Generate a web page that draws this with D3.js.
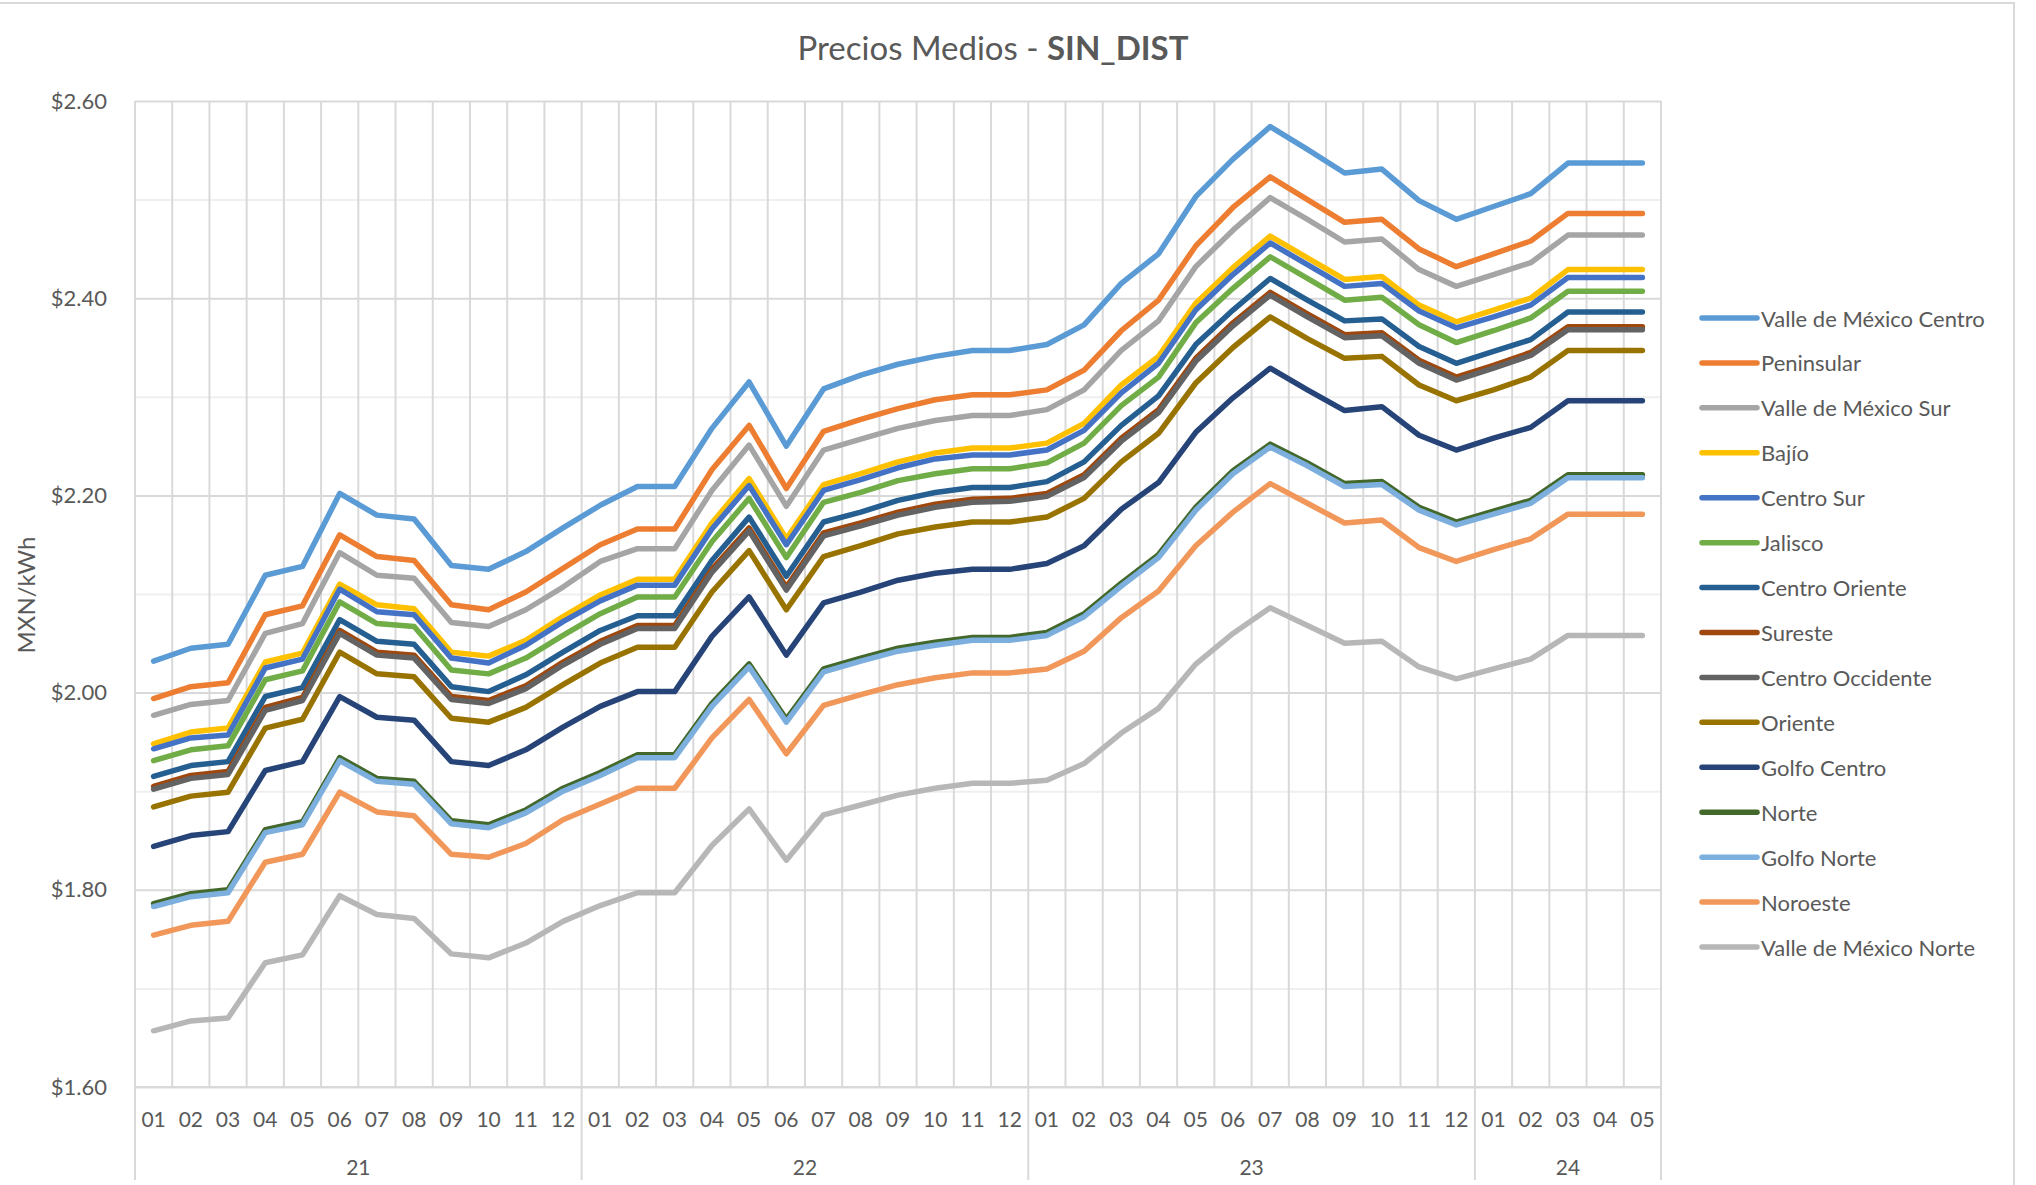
<!DOCTYPE html>
<html>
<head>
<meta charset="utf-8">
<script src="https://cdn.jsdelivr.net/npm/d3@7"></script>
<style>
  html, body { margin: 0; padding: 0; background: #fff; }
  svg { display: block; }
  text { font-family: Lato, "Open Sans", sans-serif; fill: #595959; }
</style>
</head>
<body>
<svg id="chart" width="2036" height="1185"></svg>
<script>
const monthLabels = ["01","02","03","04","05","06","07","08","09","10","11","12",
                     "01","02","03","04","05","06","07","08","09","10","11","12",
                     "01","02","03","04","05","06","07","08","09","10","11","12",
                     "01","02","03","04","05"];
const yearLabels = ["21","22","23","24"];
const yearSizes = [12, 12, 12, 5];
const yTicks = [1.6, 1.8, 2.0, 2.2, 2.4, 2.6];
const yMinor = [1.7, 1.9, 2.1, 2.3, 2.5];

const seriesNames = ["Valle de México Centro","Peninsular","Valle de México Sur","Bajío","Centro Sur",
  "Jalisco","Centro Oriente","Sureste","Centro Occidente","Oriente","Golfo Centro","Norte",
  "Golfo Norte","Noroeste","Valle de México Norte"];
const seriesColors = ["#5B9BD5","#ED7D31","#A5A5A5","#FFC000","#4472C4","#70AD47","#255E91",
  "#9E480E","#636363","#997300","#264478","#43682B","#7CAFDD","#F1975A","#B7B7B7"];

const valleMexicoCentro = [2.032,2.045,2.049,2.119,2.128,2.202,2.180,2.176,2.129,2.125,2.143,2.167,
  2.190,2.209,2.209,2.268,2.315,2.250,2.308,2.322,2.333,2.341,2.347,2.347,
  2.353,2.373,2.415,2.445,2.503,2.541,2.574,2.551,2.527,2.531,2.499,2.480,
  2.493,2.506,2.537,2.537,2.537];
const peninsular = [1.994,2.006,2.010,2.079,2.088,2.160,2.138,2.134,2.089,2.084,2.102,2.126,
  2.150,2.166,2.166,2.226,2.271,2.207,2.265,2.277,2.288,2.297,2.302,2.302,
  2.307,2.327,2.367,2.398,2.453,2.492,2.523,2.500,2.477,2.480,2.450,2.432,
  2.445,2.458,2.486,2.486,2.486];
const valleMexicoSur = [1.977,1.988,1.992,2.060,2.070,2.142,2.119,2.116,2.071,2.067,2.084,2.107,
  2.133,2.146,2.146,2.205,2.251,2.189,2.246,2.257,2.268,2.276,2.281,2.281,
  2.287,2.307,2.347,2.377,2.432,2.469,2.502,2.480,2.457,2.460,2.429,2.412,
  2.424,2.436,2.464,2.464,2.464];
const bajio = [1.948,1.960,1.964,2.031,2.040,2.110,2.089,2.085,2.041,2.037,2.053,2.077,
  2.099,2.115,2.115,2.172,2.217,2.156,2.211,2.222,2.234,2.243,2.248,2.248,
  2.253,2.273,2.312,2.341,2.395,2.431,2.463,2.441,2.419,2.422,2.393,2.376,
  2.388,2.400,2.429,2.429,2.429];
const centroSur = [1.943,1.954,1.957,2.025,2.034,2.105,2.082,2.079,2.035,2.030,2.048,2.072,
  2.093,2.109,2.109,2.166,2.210,2.150,2.205,2.216,2.228,2.237,2.241,2.241,
  2.246,2.266,2.304,2.334,2.388,2.424,2.456,2.434,2.412,2.415,2.387,2.370,
  2.381,2.393,2.421,2.421,2.421];
const jalisco = [1.931,1.942,1.946,2.013,2.022,2.092,2.070,2.067,2.023,2.019,2.035,2.058,
  2.080,2.097,2.097,2.153,2.197,2.137,2.193,2.203,2.215,2.222,2.227,2.227,
  2.233,2.253,2.291,2.320,2.375,2.410,2.442,2.420,2.398,2.401,2.373,2.355,
  2.367,2.380,2.407,2.407,2.407];
const centroOriente = [1.915,1.926,1.930,1.996,2.005,2.074,2.052,2.049,2.006,2.001,2.018,2.041,
  2.063,2.078,2.078,2.134,2.178,2.118,2.173,2.183,2.195,2.203,2.208,2.208,
  2.214,2.234,2.271,2.301,2.353,2.388,2.420,2.398,2.377,2.379,2.351,2.334,
  2.346,2.358,2.386,2.386,2.386];
const sureste = [1.905,1.916,1.920,1.985,1.995,2.063,2.041,2.038,1.996,1.992,2.007,2.031,
  2.052,2.068,2.068,2.125,2.167,2.107,2.162,2.172,2.183,2.191,2.196,2.197,
  2.202,2.221,2.258,2.287,2.339,2.375,2.406,2.384,2.363,2.365,2.337,2.320,
  2.332,2.345,2.371,2.371,2.371];
const centroOccidente = [1.902,1.913,1.917,1.982,1.992,2.060,2.038,2.035,1.993,1.989,2.004,2.028,
  2.049,2.065,2.065,2.122,2.164,2.104,2.159,2.169,2.180,2.188,2.193,2.194,
  2.199,2.218,2.255,2.284,2.336,2.372,2.403,2.381,2.360,2.362,2.334,2.317,
  2.329,2.342,2.368,2.368,2.368];
const oriente = [1.884,1.895,1.899,1.964,1.973,2.041,2.019,2.016,1.974,1.970,1.985,2.008,
  2.030,2.046,2.046,2.102,2.144,2.084,2.138,2.149,2.161,2.168,2.173,2.173,
  2.178,2.197,2.234,2.263,2.314,2.350,2.381,2.359,2.339,2.341,2.312,2.296,
  2.307,2.320,2.347,2.347,2.347];
const golfoCentro = [1.844,1.855,1.859,1.921,1.930,1.996,1.975,1.972,1.930,1.926,1.942,1.965,
  1.986,2.001,2.001,2.057,2.097,2.038,2.091,2.102,2.114,2.121,2.125,2.125,
  2.131,2.149,2.186,2.213,2.264,2.299,2.329,2.307,2.286,2.290,2.261,2.246,
  2.258,2.269,2.296,2.296,2.296];
const norte = [1.786,1.796,1.800,1.861,1.869,1.934,1.913,1.910,1.870,1.866,1.881,1.903,
  1.919,1.937,1.937,1.989,2.029,1.973,2.024,2.035,2.045,2.051,2.056,2.056,
  2.061,2.080,2.111,2.140,2.188,2.225,2.252,2.233,2.212,2.214,2.188,2.173,
  2.184,2.195,2.221,2.221,2.221];
const golfoNorte = [1.783,1.793,1.797,1.858,1.866,1.931,1.910,1.907,1.867,1.863,1.878,1.900,
  1.916,1.934,1.934,1.986,2.026,1.970,2.021,2.032,2.042,2.048,2.053,2.053,
  2.058,2.077,2.108,2.137,2.185,2.222,2.249,2.230,2.209,2.211,2.185,2.170,
  2.181,2.192,2.218,2.218,2.218];
const noroeste = [1.754,1.764,1.768,1.828,1.836,1.899,1.879,1.875,1.836,1.833,1.847,1.871,
  1.887,1.903,1.903,1.954,1.993,1.938,1.987,1.998,2.008,2.015,2.020,2.020,
  2.024,2.042,2.076,2.103,2.149,2.183,2.212,2.192,2.172,2.175,2.147,2.133,
  2.145,2.156,2.181,2.181,2.181];
const valleMexicoNorte = [1.657,1.667,1.670,1.726,1.734,1.794,1.775,1.771,1.735,1.731,1.746,1.768,
  1.784,1.797,1.797,1.845,1.882,1.830,1.876,1.886,1.896,1.903,1.908,1.908,
  1.911,1.928,1.959,1.984,2.029,2.060,2.086,2.068,2.050,2.052,2.026,2.014,
  2.024,2.034,2.058,2.058,2.058];

const seriesValues = [valleMexicoCentro, peninsular, valleMexicoSur, bajio, centroSur, jalisco,
  centroOriente, sureste, centroOccidente, oriente, golfoCentro, norte, golfoNorte, noroeste,
  valleMexicoNorte];

// ---------- layout ----------
const W = 2036, H = 1185;
const plot = { left: 135, right: 1661, top: 101, bottom: 1087 };
const svg = d3.select("#chart");

// chart border
svg.append("rect").attr("x", -2).attr("y", 3).attr("width", 2016).attr("height", H + 10)
  .attr("fill", "none").attr("stroke", "#d9d9d9").attr("stroke-width", 2);

const idx = d3.range(monthLabels.length);
const x = d3.scaleBand().domain(idx).range([plot.left, plot.right]).padding(0);
const y = d3.scaleLinear().domain([1.6, 2.6]).range([plot.bottom, plot.top]);

// minor horizontal gridlines
svg.append("g").attr("transform", `translate(${plot.left},0)`)
  .call(d3.axisLeft(y).tickValues(yMinor).tickSize(-(plot.right - plot.left)).tickFormat(""))
  .call(g => g.select(".domain").remove())
  .call(g => g.selectAll("line").attr("stroke", "#efefef").attr("stroke-width", 2));

// major horizontal gridlines
svg.append("g").attr("transform", `translate(${plot.left},0)`)
  .call(d3.axisLeft(y).tickValues(yTicks).tickSize(-(plot.right - plot.left)).tickFormat(""))
  .call(g => g.select(".domain").remove())
  .call(g => g.selectAll("line").attr("stroke", "#d9d9d9").attr("stroke-width", 2));

// vertical gridlines at category boundaries
const boundaries = d3.range(monthLabels.length + 1);
const bx = i => i < monthLabels.length ? x(i) : x(monthLabels.length - 1) + x.bandwidth();
const yearStarts = [0];
yearSizes.forEach((s, k) => yearStarts.push(yearStarts[k] + s));
svg.append("g").selectAll("line").data(boundaries).join("line")
  .attr("x1", d => bx(d)).attr("x2", d => bx(d))
  .attr("y1", plot.top)
  .attr("y2", d => yearStarts.includes(d) ? 1180 : plot.bottom)
  .attr("stroke", "#d9d9d9").attr("stroke-width", 2);

// y axis labels
svg.append("g").attr("transform", `translate(${plot.left},0)`)
  .call(d3.axisLeft(y).tickValues(yTicks).tickSize(0).tickPadding(28).tickFormat(d3.format("$.2f")))
  .call(g => g.select(".domain").remove())
  .call(g => g.selectAll("text").style("font-family", "Lato, sans-serif")
     .attr("font-size", 22).attr("fill", "#595959"));

// month labels
svg.append("g").attr("transform", `translate(0,${plot.bottom})`)
  .call(d3.axisBottom(x).tickSize(0).tickPadding(25).tickFormat(i => monthLabels[i]))
  .call(g => g.select(".domain").remove())
  .call(g => g.selectAll("text").style("font-family", "Lato, sans-serif")
     .attr("font-size", 21).attr("fill", "#595959"));

// year labels
svg.append("g").selectAll("text").data(yearLabels).join("text")
  .attr("x", (d, k) => (bx(yearStarts[k]) + bx(yearStarts[k + 1])) / 2)
  .attr("y", 1166)
  .attr("text-anchor", "middle").attr("dominant-baseline", "central")
  .attr("font-size", 21)
  .text(d => d);

// axis bottom line
svg.append("line").attr("x1", plot.left).attr("x2", plot.right)
  .attr("y1", y(1.6)).attr("y2", y(1.6)).attr("stroke", "#d9d9d9").attr("stroke-width", 2);

// series lines
const line = d3.line().x((d, i) => x(i) + x.bandwidth() / 2).y(d => y(d));
svg.append("g").selectAll("path").data(seriesValues).join("path")
  .attr("d", d => line(d))
  .attr("fill", "none")
  .attr("stroke", (d, k) => seriesColors[k])
  .attr("stroke-width", 5.5)
  .attr("stroke-linejoin", "round")
  .attr("stroke-linecap", "round");

// title
const title = svg.append("text").attr("x", 993).attr("y", 47)
  .attr("text-anchor", "middle").attr("dominant-baseline", "central")
  .attr("font-size", 33);
title.append("tspan").text("Precios Medios - ");
title.append("tspan").attr("font-weight", "bold").text("SIN_DIST");

// y axis title
svg.append("text").attr("transform", "translate(25,595) rotate(-90)")
  .attr("text-anchor", "middle").attr("dominant-baseline", "central")
  .attr("font-size", 24).text("MXN/kWh");

// legend
const leg = svg.append("g").selectAll("g").data(seriesNames).join("g")
  .attr("transform", (d, k) => `translate(1702,${318 + k * 44.93})`);
leg.append("line").attr("x1", 0).attr("x2", 55).attr("y1", 0).attr("y2", 0)
  .attr("stroke", (d, k) => seriesColors[k]).attr("stroke-width", 5.5).attr("stroke-linecap", "round");
leg.append("text").attr("x", 59).attr("y", 0).attr("dominant-baseline", "central")
  .attr("font-size", 22).text(d => d);
</script>
</body>
</html>
